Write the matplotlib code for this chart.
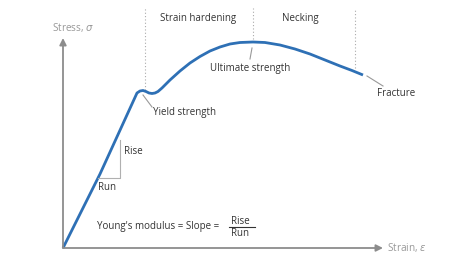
import matplotlib.pyplot as plt

plt.rcParams.update({"font.family": ["Open Sans", "DejaVu Sans"], "mathtext.fontset": "dejavusans"})

# stress-strain curve (arbitrary units, origin at the axes corner)
strain = [0, 37, 74, 77, 80, 83, 86, 89, 92, 95, 99, 107, 117, 127, 137, 147, 157, 167,
          177, 190, 202, 217, 232, 247, 262, 277, 289, 300]
stress = [0, 74, 155, 157, 157.5, 156.5, 155, 154.5, 155, 156.5, 160, 168, 177, 185, 191.5,
          197, 201, 204, 205.5, 206, 205.5, 203, 199, 194, 188, 182, 177.5, 173]

# region boundaries (strain) and their labels
bounds = [82, 190, 292]
bound_top = [155, 206, 177]
regions = ["Strain hardening", "Necking"]

# slope triangle (rise / run)
run_x = [35, 57]
rise_y = [70, 108]

BLUE, GREY, TXT = "#2e70b5", "#8c8c8c", "#333333"

fig = plt.figure(figsize=(4.74, 2.66), dpi=100)
ax = fig.add_axes([0, 0, 1, 1])
ax.set_xlim(-63, 411)
ax.set_ylim(-18, 248)
ax.axis("off")

# axes arrows
ax.annotate("", xy=(0, 210), xytext=(0, 0),
            arrowprops=dict(arrowstyle="-|>", color=GREY, lw=1.3, mutation_scale=10, shrinkA=0, shrinkB=0))
ax.annotate("", xy=(320, 0), xytext=(0, 0),
            arrowprops=dict(arrowstyle="-|>", color=GREY, lw=1.3, mutation_scale=10, shrinkA=0, shrinkB=0))
ax.text(10, 220, r"Stress, $\sigma$", color="#999999", fontsize=7.2, ha="center", va="center")
ax.text(324, 0, r"Strain, $\varepsilon$", color="#999999", fontsize=7.2, ha="left", va="center")

# dotted region boundaries
for b, top in zip(bounds, bound_top):
    ax.plot([b, b], [top + 3, 240], ls=(0, (1, 2)), color="#aaaaaa", lw=0.8)
ax.text(135, 229, regions[0], color=TXT, fontsize=7, ha="center", va="center")
ax.text(237, 229, regions[1], color=TXT, fontsize=7, ha="center", va="center")

# curve
ax.plot(strain, stress, color=BLUE, lw=2, solid_capstyle="butt", solid_joinstyle="round")

# slope triangle
ax.plot([run_x[0], run_x[1], run_x[1]], [rise_y[0], rise_y[0], rise_y[1]], color="#b0b0b0", lw=0.8)
ax.text(61, 96, "Rise", color=TXT, fontsize=7, ha="left", va="center")
ax.text(35, 60, "Run", color=TXT, fontsize=7, ha="left", va="center")

# annotations with leader lines
lead = dict(color="#999999", lw=0.8)
ax.plot([80, 89], [153, 141], **lead)
ax.text(90, 136, "Yield strength", color=TXT, fontsize=7, ha="left", va="center")
ax.plot([189, 187], [200, 189], **lead)
ax.text(187, 180, "Ultimate strength", color=TXT, fontsize=7, ha="center", va="center")
ax.plot([304, 320], [172, 162], **lead)
ax.text(314, 155, "Fracture", color=TXT, fontsize=7, ha="left", va="center")

# Young's modulus formula
ax.text(34, 22, "Young's modulus = Slope =", color=TXT, fontsize=7, ha="left", va="center")
ax.text(177, 27, "Rise", color=TXT, fontsize=7, ha="center", va="center")
ax.plot([166, 192], [21, 21], color=TXT, lw=0.8)
ax.text(177, 15, "Run", color=TXT, fontsize=7, ha="center", va="center")

fig.savefig("out.png", dpi=100)
